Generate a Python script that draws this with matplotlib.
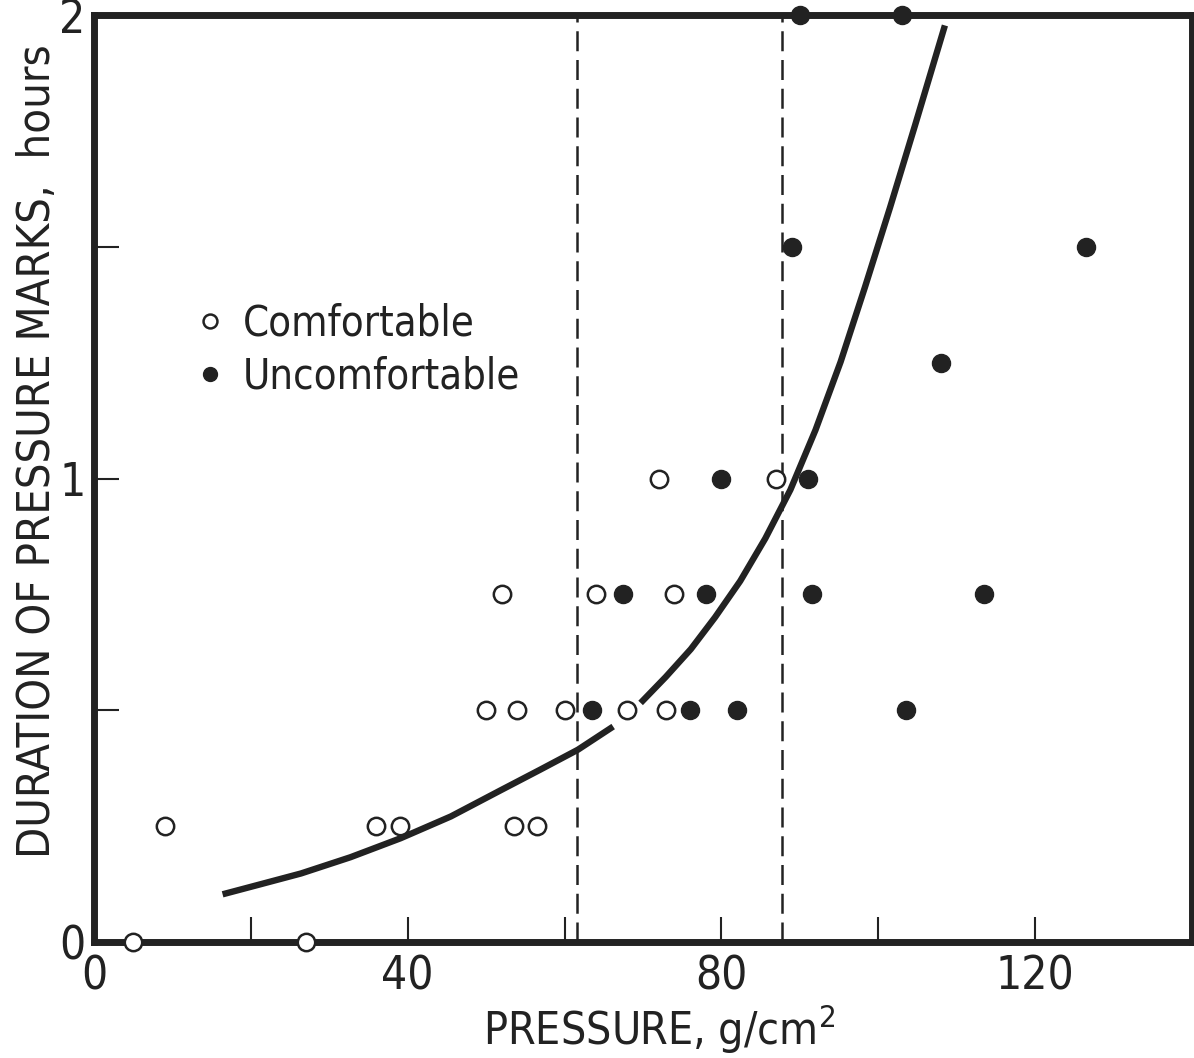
import matplotlib
matplotlib.use('Agg')
import numpy as np
import matplotlib.pyplot as plt
from matplotlib.lines import Line2D

plt.rcParams['font.family'] = ['DejaVu Sans']
plt.rcParams['font.stretch'] = 'condensed'

ink = '#222222'

# comfortable (open circles)
comf_x = [5, 27, 9, 36, 39, 53.5, 56.5, 50, 54, 60, 68, 73, 52, 64, 74, 72, 87]
comf_y = [0, 0, 0.25, 0.25, 0.25, 0.25, 0.25, 0.5, 0.5, 0.5, 0.5, 0.5,
          0.75, 0.75, 0.75, 1.0, 1.0]

# uncomfortable (filled circles)
unc_x = [63.5, 76, 82, 103.5, 67.5, 78, 91.5, 113.5, 80, 91, 108, 89, 126.5, 90, 103]
unc_y = [0.5, 0.5, 0.5, 0.5, 0.75, 0.75, 0.75, 0.75, 1.0, 1.0, 1.25, 1.5, 1.5, 2.0, 2.0]

# fitted curve (nan = gap around the point)
curve_x = [16.4, 21.3, 26.4, 32.7, 39.1, 45.5, 51.8, 56.9, 61.7, 66.2, np.nan,
           69.7, 72.9, 76.1, 79.2, 82.4, 85.6, 88.8, 92.0, 95.2, 98.3, 101.5, 104.7, 108.5]
curve_y = [0.103, 0.125, 0.148, 0.183, 0.224, 0.271, 0.327, 0.372, 0.415, 0.465, np.nan,
           0.516, 0.572, 0.632, 0.701, 0.779, 0.871, 0.976, 1.105, 1.252, 1.413, 1.585, 1.763, 1.978]

limits = [61.6, 87.7]

fig = plt.figure(figsize=(11.94, 10.58), dpi=100)
ax = fig.add_axes([0.0787, 0.1096, 0.9196, 0.876])

ax.plot(curve_x, curve_y, color=ink, lw=4.6, solid_capstyle='butt',
        solid_joinstyle='round', zorder=3)
for xv in limits:
    ax.axvline(xv, color=ink, lw=1.8, ls=(0, (8, 3.5)), zorder=2)

ax.plot(comf_x, comf_y, 'o', ms=12.5, mfc='white', mec=ink, mew=1.8,
        ls='none', clip_on=False, zorder=5)
ax.plot(unc_x, unc_y, 'o', ms=13, mfc=ink, mec=ink, mew=1,
        ls='none', clip_on=False, zorder=5)

ax.set_xlim(0, 140)
ax.set_ylim(0, 2)

for s in ax.spines.values():
    s.set_linewidth(5)
    s.set_color(ink)

# ticks every 20 / 0.5, labels only on every other one
ax.xaxis.remove_overlapping_locs = False
ax.yaxis.remove_overlapping_locs = False
ax.set_xticks([20, 40, 60, 80, 100, 120])
ax.set_xticklabels([])
ax.set_xticks([0, 40, 80, 120], minor=True)
ax.set_xticklabels(['0', '40', '80', '120'], minor=True)
ax.set_yticks([0.5, 1, 1.5])
ax.set_yticklabels([])
ax.set_yticks([0, 1, 2], minor=True)
ax.set_yticklabels(['0', '1', '2'], minor=True)

ax.tick_params(which='major', direction='in', length=18, width=1.5, color=ink)
ax.tick_params(which='minor', length=0, labelsize=33, labelcolor=ink)
ax.tick_params(axis='x', which='minor', pad=9)
ax.tick_params(axis='y', which='minor', pad=6)

ax.set_xlabel('PRESSURE, g/cm$^2$', fontsize=32, color=ink, labelpad=2, x=0.515)
ax.set_ylabel('DURATION OF PRESSURE MARKS,  hours', fontsize=32.5, color=ink,
              labelpad=0, y=0.53)

handles = [
    Line2D([], [], marker='o', ls='none', ms=10, mfc='white', mec=ink, mew=1.8),
    Line2D([], [], marker='o', ls='none', ms=10, mfc=ink, mec=ink),
]
ax.legend(handles, ['Comfortable', 'Uncomfortable'], loc='upper left',
          bbox_to_anchor=(0.06, 0.73), frameon=False, fontsize=30,
          handlelength=0.6, handletextpad=0.5, labelspacing=0.25, labelcolor=ink)

fig.savefig('out.png', dpi=100, facecolor='white')
